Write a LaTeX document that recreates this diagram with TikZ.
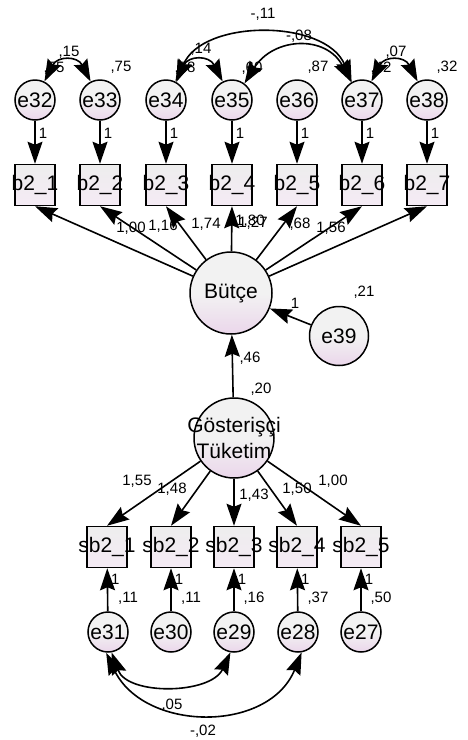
\documentclass[tikz,border=0pt]{standalone}
\usepackage{fontspec}
\setmainfont{Liberation Sans}
\usetikzlibrary{arrows.meta}

\tikzset{
  var/.style={circle, draw, line width=1.5pt, minimum size=40pt, inner sep=0pt,
    top color=black!5, bottom color=violet!16, middle color=black!5,
    font=\fontsize{21}{25}\selectfont},
  obs/.style={rectangle, draw, line width=1.5pt, minimum width=40pt, minimum height=41pt,
    inner sep=0pt, top color=black!7, bottom color=violet!8,
    font=\fontsize{21}{25}\selectfont},
  par/.style={font=\fontsize{15}{17}\selectfont, inner sep=0pt},
  reg/.style={line width=1.6pt, -{Stealth[length=22pt,width=15pt,inset=3pt]}},
  cov/.style={line width=1.6pt,
    {Stealth[length=22pt,width=15pt,inset=3pt]}-{Stealth[length=22pt,width=15pt,inset=3pt]}},
}

\begin{document}
\begin{tikzpicture}[x=1pt,y=1pt]
                    \useasboundingbox (0,0) rectangle (467,-740);
                    % error terms of the top indicators
                    \node[var] (e32) at (35,-100) {e32};
                    \node[var] (e33) at (100,-100) {e33};
                    \node[var] (e34) at (166,-100) {e34};
                    \node[var] (e35) at (232,-100) {e35};
                    \node[var] (e36) at (297,-100) {e36};
                    \node[var] (e37) at (362,-100) {e37};
                    \node[var] (e38) at (427,-100) {e38};
                    % indicators of Butce
                    \node[obs] (b1) at (35,-185) {\makebox[0pt]{b2\_1}};
                    \node[obs] (b2) at (100,-185) {\makebox[0pt]{b2\_2}};
                    \node[obs] (b3) at (166,-185) {\makebox[0pt]{b2\_3}};
                    \node[obs] (b4) at (232,-185) {\makebox[0pt]{b2\_4}};
                    \node[obs] (b5) at (297,-185) {\makebox[0pt]{b2\_5}};
                    \node[obs] (b6) at (362,-185) {\makebox[0pt]{b2\_6}};
                    \node[obs] (b7) at (427,-185) {\makebox[0pt]{b2\_7}};
                    % latent variables
                    \node[var, minimum size=82pt] (butce) at (231,-293) {Bütçe};
                    \node[var, minimum size=59pt] (e39) at (339,-336) {e39};
                    \node[var, minimum size=80pt, align=center, font=\fontsize{21}{26}\selectfont]
                      (gt) at (234,-438) {\makebox[0pt]{Gösterişçi}\\\makebox[0pt]{Tüketim}};
                    % indicators of Gosterisci Tuketim
                    \node[obs] (s1) at (107,-547) {\makebox[0pt]{sb2\_1}};
                    \node[obs] (s2) at (171,-547) {\makebox[0pt]{sb2\_2}};
                    \node[obs] (s3) at (234,-547) {\makebox[0pt]{sb2\_3}};
                    \node[obs] (s4) at (297,-547) {\makebox[0pt]{sb2\_4}};
                    \node[obs] (s5) at (361,-547) {\makebox[0pt]{sb2\_5}};
                    \node[var] (e31) at (108,-632) {e31};
                    \node[var] (e30) at (171,-632) {e30};
                    \node[var] (e29) at (234,-632) {e29};
                    \node[var] (e28) at (298,-632) {e28};
                    \node[var] (e27) at (361,-632) {e27};

                    % estimates
                    \node[par] (v32) at (54,-68) {,55};
                    \node[par] (v33) at (121,-67) {,75};
                    \node[par] (v34) at (185,-68) {,58};
                    \node[par] (v35) at (252,-68) {,60};
                    \node[par] (v36) at (318,-67) {,87};
                    \node[par] (v37) at (381,-68) {,42};
                    \node[par] (v38) at (447,-67) {,32};
                    \node[par] (c3233) at (69,-52) {,15};
                    \node[par] (c3435) at (201,-49) {,14};
                    \node[par] (c3738) at (396,-52) {,07};
                    \node[par] (c3437) at (263,-14) {-,11};
                    \node[par] (c3537) at (299,-36) {-,08};
                    \node[par] (w1) at (131,-228) {1,00};
                    \node[par] (w2) at (163,-226) {1,16};
                    \node[par] (w3) at (206,-224) {1,74};
                    \node[par] (w4) at (250,-221) {1,80};
                    \node[par] (w4b) at (253,-223) {1,27};
                    \node[par] (w5) at (300,-224) {,68};
                    \node[par] (w6) at (331,-228) {1,56};
                    \node[par] (v39) at (364,-292) {,21};
                    \node[par] (w39) at (295,-303) {1};
                    \node[par] (wgt) at (250,-358) {,46};
                    \node[par] (vgt) at (261,-389) {,20};
                    \node[par] (l1) at (137,-481) {1,55};
                    \node[par] (l2) at (172,-489) {1,48};
                    \node[par] (l3) at (254,-495) {1,43};
                    \node[par] (l4) at (297,-489) {1,50};
                    \node[par] (l5) at (333,-481) {1,00};
                    \node[par] (v31) at (128,-598) {,11};
                    \node[par] (v30) at (191,-598) {,11};
                    \node[par] (v29) at (254,-598) {,16};
                    \node[par] (v28) at (318,-598) {,37};
                    \node[par] (v27) at (381,-598) {,50};
                    \node[par] (c3129) at (172,-705) {,05};
                    \node[par] (c3128) at (203,-731) {-,02};

                    % arrows
                    \draw[reg] (e32) -- node[par,right=3pt,pos=.3]{1} (b1);
                    \draw[reg] (e33) -- node[par,right=3pt,pos=.3]{1} (b2);
                    \draw[reg] (e34) -- node[par,right=3pt,pos=.3]{1} (b3);
                    \draw[reg] (e35) -- node[par,right=3pt,pos=.3]{1} (b4);
                    \draw[reg] (e36) -- node[par,right=3pt,pos=.3]{1} (b5);
                    \draw[reg] (e37) -- node[par,right=3pt,pos=.3]{1} (b6);
                    \draw[reg] (e38) -- node[par,right=3pt,pos=.3]{1} (b7);
                    \draw[reg] (butce) -- (b1.south);
                    \draw[reg] (butce) -- (b2.south);
                    \draw[reg] (butce) -- (b3.south);
                    \draw[reg] (butce) -- (b4.south);
                    \draw[reg] (butce) -- (b5.south);
                    \draw[reg] (butce) -- (b6.south);
                    \draw[reg] (butce) -- (b7.south);
                    \draw[reg] (e39) -- (butce);
                    \draw[reg] (gt) -- (butce);
                    \draw[reg] (gt) -- (s1.north);
                    \draw[reg] (gt) -- (s2.north);
                    \draw[reg] (gt) -- (s3.north);
                    \draw[reg] (gt) -- (s4.north);
                    \draw[reg] (gt) -- (s5.north);
                    \draw[reg] (e31) -- node[par,right=3pt,pos=.75]{1} (s1);
                    \draw[reg] (e30) -- node[par,right=3pt,pos=.75]{1} (s2);
                    \draw[reg] (e29) -- node[par,right=3pt,pos=.75]{1} (s3);
                    \draw[reg] (e28) -- node[par,right=3pt,pos=.75]{1} (s4);
                    \draw[reg] (e27) -- node[par,right=3pt,pos=.75]{1} (s5);

                    % covariances
                    \draw[cov] (e32.63) to[out=63,in=117,looseness=1.6] (e33.117);
                    \draw[cov] (e34.63) to[out=63,in=117,looseness=1.6] (e35.117);
                    \draw[cov] (e37.63) to[out=63,in=117,looseness=1.6] (e38.117);
                    \draw[cov] (e34.60) to[out=68,in=112] (e37.120);
                    \draw[cov] (e35.53) to[out=58,in=118,looseness=1.3] (e37.121);
                    \draw[cov] (e31.-80) to[out=-70,in=-115] (e29.-100);
                    \draw[cov] (e31.-95) to[out=-65,in=-112,looseness=1.15] (e28.-80);
                \end{tikzpicture}
\end{document}
